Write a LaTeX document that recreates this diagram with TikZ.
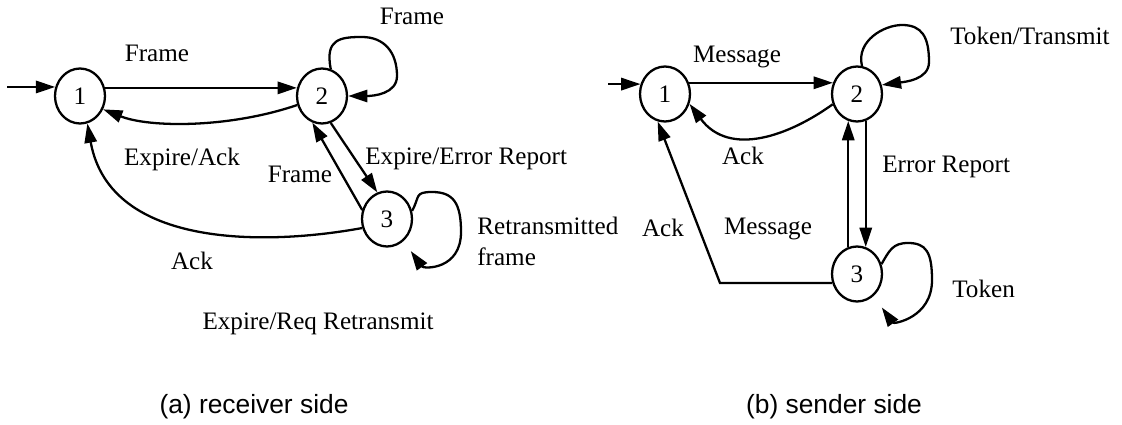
\documentclass[tikz,border=0pt]{standalone}
\usepackage{fontspec}
\setmainfont{Liberation Serif}
\newfontfamily\capfont{Liberation Sans}
\usetikzlibrary{arrows.meta,shapes.geometric,calc}
\begin{document}
\begin{tikzpicture}[x=0.02cm,y=-0.02cm,
  st/.style={ellipse,draw,line width=1.3pt,minimum width=1.0cm,minimum height=1.1cm,inner sep=0pt,font=\fontsize{14.3}{17}\selectfont},
  arr/.style={line width=1.3pt,-{Triangle[length=11pt,width=7pt]}},
  lbl/.style={font=\fontsize{14.3}{17}\selectfont,inner sep=0pt},
  captxt/.style={font=\capfont\fontsize{15}{18}\selectfont,inner sep=0pt}]
\useasboundingbox (0,0) rectangle (1122,425);

% ---------- (a) receiver side ----------
\node[st] (L1) at (80,96) {1};
\node[st] (L2) at (322,96) {2};
\node[st] (L3) at (387,219) {3};
\coordinate (Li) at ($(L1.160)+(-48,0)$);
\draw[arr] (Li) -- (L1.160);
\draw[arr] (L1.18) -- (L2.162);
\draw[arr] (L2.200) .. controls (230,128) and (150,128) .. (L1.330);
\draw[arr] (L2.72) .. controls +(-6,-30) and +(-22,0) .. (362,37)
  .. controls +(22,0) and +(0,-24) .. (397,76)
  .. controls +(0,18) and +(25,0) .. (L2.0);
\draw[arr] (L2.-72) -- (L3.110);
\draw[arr] (L3.160) -- (L2.250);
\draw[arr] (L3.200) .. controls (270,245) and (110,250) .. (L1.285);
\draw[arr,shorten >=7pt] (L3.18) .. controls +(8,-14) and +(-18,0) .. (432,192)
  .. controls +(22,0) and +(0,-28) .. (461,232)
  .. controls +(0,38) and +(20,28) .. (L3.-53);

\node[lbl,anchor=base] (tF1) at (157,62) {Frame};
\node[lbl,anchor=base] (tF2) at (412,25) {Frame};
\node[lbl,anchor=base] (tEA) at (182,166) {Expire/Ack};
\node[lbl,anchor=base west] (tEE) at (365,165) {Expire/Error Report};
\node[lbl,anchor=base] (tF3) at (300,183) {Frame};
\node[lbl,anchor=base west] (tR1) at (477,235) {Retransmitted};
\node[lbl,anchor=base west] (tR2) at (477,266) {frame};
\node[lbl,anchor=base] (tAk) at (192,270) {Ack};
\node[lbl,anchor=base] (tER) at (318,330) {Expire/Req Retransmit};
\node[captxt,anchor=base] (capA) at (254,413) {(a) receiver side};

% ---------- (b) sender side ----------
\node[st] (R1) at (665,94) {1};
\node[st] (R2) at (857,94) {2};
\node[st] (R3) at (857,274) {3};
\coordinate (Ri) at ($(R1.158)+(-32,0)$);
\draw[arr] (Ri) -- (R1.158);
\draw[arr] (R1.25) -- (R2.155);
\draw[arr] (R2.203) .. controls (790,135) and (730,158) .. (R1.338);
\draw[arr] (R2.80) .. controls +(-6,-25) and +(-18,0) .. (902,25)
  .. controls +(20,0) and +(0,-25) .. (929,62)
  .. controls +(0,18) and +(22,-3) .. (R2.20);
\draw[arr] (R2.-72) -- (R3.72);
\draw[arr] (R3.108) -- (R2.-108);
\coordinate (Rk) at (720,283);
\draw[arr] (R3.200) -- (R3.200 -| Rk) -- (R1.255);
\draw[arr,shorten >=8pt] (R3.22) .. controls +(8,-14) and +(-15,0) .. (908,243)
  .. controls +(18,0) and +(0,-28) .. (932,280)
  .. controls +(0,38) and +(20,28) .. (R3.-53);

\node[lbl,anchor=base] (tM1) at (737,63) {Message};
\node[lbl,anchor=base west] (tTT) at (950,45) {Token/Transmit};
\node[lbl,anchor=base] (tA1) at (743,165) {Ack};
\node[lbl,anchor=base west] (tErr) at (882,173) {Error Report};
\node[lbl,anchor=base] (tA2) at (663,237) {Ack};
\node[lbl,anchor=base] (tM2) at (768,235) {Message};
\node[lbl,anchor=base west] (tTk) at (952,298) {Token};
\node[captxt,anchor=base] (capB) at (834,413) {(b) sender side};
\end{tikzpicture}
\end{document}
